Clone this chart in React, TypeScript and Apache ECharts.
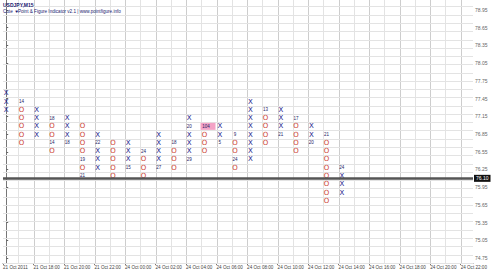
import React, { useEffect, useRef } from "react";
import * as echarts from "echarts";

// ---- data ----
const TITLE = "USDJPY,M15";
const SUBTITLE = "Cute  \u2665Point & Figure Indicator v2.1 | www.pointfigure.info";

const TIME_LABELS = [
  "21 Oct 2011", "21 Oct 18:00", "21 Oct 20:00", "21 Oct 22:00",
  "24 Oct 00:00", "24 Oct 02:00", "24 Oct 04:00", "24 Oct 06:00",
  "24 Oct 08:00", "24 Oct 10:00", "24 Oct 12:00", "24 Oct 14:00",
  "24 Oct 16:00", "24 Oct 18:00", "24 Oct 20:00", "24 Oct 22:00",
];

const PRICE_LABELS = [
  74.75, 75.05, 75.35, 75.65, 75.95, 76.25, 76.55, 76.85,
  77.15, 77.45, 77.75, 78.05, 78.35, 78.65, 78.95,
];

const BOX = 0.14;
const CURRENT_PRICE = 76.1;

// one entry per P&F column
const COL_TYPES = ["X", "O", "X", "O", "X", "O", "X", "O", "X", "O", "X", "O",
  "X", "O", "X", "O", "X", "O", "X", "O", "X", "O", "X"];
const COL_LOW = [77.26, 76.70, 76.84, 76.56, 76.70, 76.14, 76.28, 76.14, 76.28, 76.14, 76.28, 76.28,
  76.42, 76.56, 76.70, 76.28, 76.42, 76.70, 76.84, 76.56, 76.70, 75.72, 75.86];
const COL_HIGH = [77.54, 77.40, 77.26, 77.12, 77.12, 76.98, 76.84, 76.70, 76.70, 76.56, 76.84, 76.70,
  77.12, 76.98, 76.98, 76.84, 77.40, 77.26, 77.26, 77.12, 76.98, 76.84, 76.28];

// time markers written in place of a box: [column, price, text, highlighted]
const MARKERS: [number, number, string, boolean][] = [
  [1, 77.40, "14", false], [3, 77.12, "18", false], [3, 76.70, "14", false],
  [4, 76.70, "18", false], [5, 76.42, "19", false], [5, 76.14, "21", false],
  [6, 76.70, "22", false], [8, 76.28, "15", false], [9, 76.56, "24", false],
  [10, 76.28, "27", false], [11, 76.70, "18", false], [12, 76.98, "20", false],
  [12, 76.42, "29", false], [13, 76.98, "104", true], [14, 76.70, "5", false],
  [15, 76.84, "9", false], [15, 76.42, "24", false], [17, 77.26, "13", false],
  [18, 76.84, "21", false], [19, 77.12, "17", false], [20, 76.70, "20", false],
  [21, 76.84, "21", false], [22, 76.28, "24", false],
];

// ---- layout ----
const X_ORIGIN = -0.21;
const X_MAX = 30.6;
const Y_MIN = 74.667;
const Y_MAX = 79.119;
const GRID_ROW_BASE = 76.07;

export default function App() {
  const ref = useRef<HTMLDivElement>(null);
  useEffect(() => {
    if (!ref.current) return;
    const chart = echarts.init(ref.current, null, { renderer: "svg" });
    const colData = COL_TYPES.map((t, i) => [i, COL_LOW[i], COL_HIGH[i]]);
    const tickValues = TIME_LABELS.map((_, k) => X_ORIGIN + 2 * k);

    const option: any = {
      animation: false,
      backgroundColor: "#ffffff",
      grid: { left: 1, right: 19, top: 0, bottom: 9 },
      xAxis: {
        type: "value",
        min: X_ORIGIN,
        max: X_MAX,
        splitLine: { show: false },
        axisLine: { show: true, lineStyle: { color: "#777", width: 1 } },
        axisTick: {
          show: true,
          customValues: tickValues,
          length: 2,
          lineStyle: { color: "#777" },
        },
        axisLabel: {
          customValues: tickValues,
          formatter: (v: number) => TIME_LABELS[Math.round((v - X_ORIGIN) / 2)] ?? "",
          align: "left",
          fontSize: 4.6,
          fontFamily: "Liberation Sans",
          color: "#444",
          margin: 2,
          showMinLabel: true,
          showMaxLabel: true,
          hideOverlap: false,
        },
      },
      yAxis: {
        type: "value",
        position: "right",
        min: Y_MIN,
        max: Y_MAX,
        splitLine: { show: false },
        axisLine: { show: true, lineStyle: { color: "#777", width: 1 } },
        axisTick: {
          show: true,
          customValues: PRICE_LABELS,
          length: 2,
          lineStyle: { color: "#666" },
        },
        axisLabel: {
          customValues: PRICE_LABELS,
          formatter: (v: number) => v.toFixed(2),
          fontSize: 5,
          fontFamily: "Liberation Sans",
          color: "#666",
          margin: 2,
        },
      },
      graphic: [
        {
          type: "text",
          left: 3,
          top: 2,
          z: 100,
          style: { text: TITLE, fontSize: 5, fontFamily: "Liberation Sans", fontWeight: "bold", fill: "#1a1a70" },
        },
        {
          type: "text",
          left: 3,
          top: 9,
          z: 100,
          style: { text: SUBTITLE, fontSize: 4.6, fontFamily: "Liberation Sans", fill: "#1a1a70" },
        },
      ],
      series: [
        {
          type: "custom",
          name: "grid",
          silent: true,
          z: 1,
          data: [[0, 76]],
          renderItem: (params: any, api: any) => {
            const children: any[] = [];
            const top = api.coord([0, Y_MAX])[1];
            const bottom = api.coord([0, Y_MIN])[1];
            const left = api.coord([X_ORIGIN, 0])[0];
            const right = api.coord([X_MAX, 0])[0];
            for (let i = 1; i + X_ORIGIN < X_MAX; i++) {
              const x = Math.round(api.coord([i + X_ORIGIN, 0])[0]) + 0.5;
              children.push({
                type: "line",
                shape: { x1: x, y1: top, x2: x, y2: bottom },
                style: { stroke: i % 2 === 0 ? "#cdcdcd" : "#e3e3e3", lineWidth: 1 },
              });
            }
            for (let k = -12; k < 30; k++) {
              const p = GRID_ROW_BASE + k * BOX;
              if (p <= Y_MIN || p >= Y_MAX) continue;
              const y = Math.round(api.coord([0, p])[1]) + 0.5;
              children.push({
                type: "line",
                shape: { x1: left, y1: y, x2: right, y2: y },
                style: { stroke: "#e3e3e3", lineWidth: 1 },
              });
            }
            return { type: "group", children };
          },
          markLine: {
            silent: true,
            symbol: "none",
            z: 5,
            data: [{ yAxis: CURRENT_PRICE }],
            lineStyle: { color: "#555", width: 2.5, type: "solid" },
            label: {
              show: true,
              position: "end",
              distance: 1,
              formatter: CURRENT_PRICE.toFixed(2),
              backgroundColor: "#111",
              color: "#fff",
              fontSize: 5,
              fontFamily: "Liberation Sans",
              padding: [1, 2, 1, 2],
            },
          },
        },
        {
          type: "custom",
          name: "pf",
          z: 3,
          data: colData,
          renderItem: (params: any, api: any) => {
            const i = api.value(0);
            const low = api.value(1);
            const high = api.value(2);
            const type = COL_TYPES[i];
            const n = Math.round((high - low) / BOX);
            const children: any[] = [];
            for (let j = 0; j <= n; j++) {
              const p = low + j * BOX;
              const [x, y] = api.coord([i, p]);
              const m = MARKERS.find((mk) => mk[0] === i && Math.abs(mk[1] - p) < BOX / 2);
              if (m) {
                if (m[3]) {
                  children.push({
                    type: "rect",
                    shape: { x: x - 4, y: y - 3.5, width: 15, height: 7 },
                    style: { fill: "#f4a3c6" },
                  });
                }
                children.push({
                  type: "text",
                  x: m[3] ? x + 1.5 : x,
                  y: y,
                  style: {
                    text: m[2],
                    align: "center",
                    verticalAlign: "middle",
                    fontSize: 4.5,
                    fontFamily: "Liberation Sans",
                    fill: "#1c1c66",
                  },
                });
              } else {
                children.push({
                  type: "text",
                  x: x,
                  y: y,
                  style: {
                    text: type,
                    align: "center",
                    verticalAlign: "middle",
                    fontSize: 7,
                    fontFamily: "DejaVu Sans",
                    fill: type === "X" ? "#24248c" : "#cc4433",
                  },
                });
              }
            }
            return { type: "group", children };
          },
        },
      ],
    };
    chart.setOption(option);
    return () => chart.dispose();
  }, []);
  return (
    <div
      ref={ref}
      style={{ position: "fixed", left: 0, top: 0, width: 492, height: 272, background: "#fff" }}
    />
  );
}
